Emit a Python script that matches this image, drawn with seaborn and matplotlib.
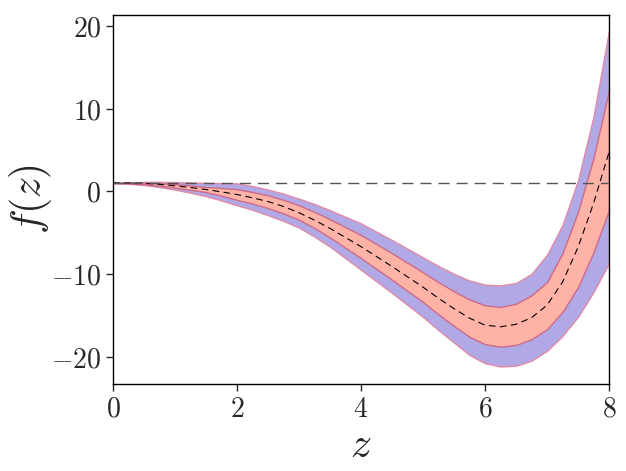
import numpy as np
import pandas as pd
import seaborn as sns
import matplotlib
matplotlib.use('Agg')
import matplotlib.pyplot as plt
from matplotlib.ticker import FuncFormatter

# values
z = [0, 0.25, 0.5, 0.75, 1, 1.25, 1.5, 1.75, 2, 2.25, 2.5, 2.75, 3, 3.25,
     3.5, 3.75, 4, 4.25, 4.5, 4.75, 5, 5.25, 5.5, 5.75, 6, 6.25, 6.5,
     6.75, 7, 7.25, 7.5, 7.75, 8]
f_mid = [1.0, 1.0, 0.95, 0.82, 0.65, 0.45, 0.2, -0.08, -0.4, -0.8, -1.25,
         -1.85, -2.6, -3.5, -4.5, -5.6, -6.7, -7.9, -9.1, -10.35, -11.6,
         -12.95, -14.2, -15.35, -16.2, -16.4, -16.1, -15.3, -13.8, -11.0,
         -6.8, -1.5, 4.7]
f_hi1 = [1.0, 1.02, 1.05, 0.97, 0.85, 0.7, 0.5, 0.4, 0.25, -0.1, -0.5,
         -1.05, -1.7, -2.5, -3.4, -4.35, -5.3, -6.4, -7.5, -8.65, -9.8,
         -11.0, -12.1, -13.1, -13.8, -14.0, -13.6, -12.6, -11.0, -7.5,
         -2.5, 4.0, 12.2]
f_lo1 = [1.0, 0.95, 0.85, 0.67, 0.43, 0.17, -0.1, -0.55, -1.05, -1.5, -2.05,
         -2.7, -3.45, -4.45, -5.6, -6.85, -8.1, -9.4, -10.7, -12.05, -13.4,
         -14.9, -16.3, -17.6, -18.5, -18.8, -18.6, -17.9, -16.7, -14.6,
         -11.6, -7.4, -2.3]
f_hi2 = [1.0, 1.07, 1.12, 1.13, 1.1, 1.06, 1.0, 0.98, 0.95, 0.62, 0.2,
         -0.3, -0.9, -1.55, -2.3, -3.1, -3.9, -4.9, -5.9, -6.95, -8.0,
         -9.05, -10.0, -10.8, -11.3, -11.4, -11.1, -10.0, -7.7, -4.1, 1.3,
         9.0, 19.4]
f_lo2 = [1.0, 0.9, 0.75, 0.5, 0.2, -0.18, -0.6, -1.12, -1.7, -2.25, -2.9,
         -3.6, -4.4, -5.5, -6.7, -8.1, -9.5, -10.9, -12.3, -13.75, -15.2,
         -16.8, -18.3, -19.8, -20.8, -21.2, -21.1, -20.5, -19.3, -17.5,
         -15.2, -12.2, -8.7]
x_ticks = [0, 2, 4, 6, 8]
y_ticks = [-20, -10, 0, 10, 20]

df = pd.DataFrame({'z': z, 'mid': f_mid, 'hi1': f_hi1, 'lo1': f_lo1,
                   'hi2': f_hi2, 'lo2': f_lo2})

sns.set_style('ticks')
plt.rcParams['font.family'] = ['DejaVu Serif']
plt.rcParams['mathtext.fontset'] = 'cm'

fig = plt.figure(figsize=(6.26, 4.71), dpi=100)
ax = fig.add_axes([0.1805, 0.185, 0.7923, 0.783])

# outer band, inner band
ax.fill_between(df['z'], df['lo2'], df['hi2'], facecolor='#b1a9e5',
                edgecolor='#e08aa8', lw=1, zorder=1)
ax.fill_between(df['z'], df['lo1'], df['hi1'], facecolor='#ffb2a6',
                edgecolor='#cc6a8a', lw=1, zorder=2)

sns.lineplot(data=df, x='z', y='mid', ax=ax, color='black', lw=0.8,
             linestyle=(0, (6, 4)), zorder=3)
ax.axhline(1, color='#555555', lw=1, linestyle=(0, (8, 5)), zorder=4)

ax.set_xlim(0, 8)
ax.set_ylim(-23.3, 21.3)
ax.set_xticks(x_ticks)
ax.set_yticks(y_ticks)
fmt = FuncFormatter(lambda v, p: f'${v:g}$')
ax.xaxis.set_major_formatter(fmt)
ax.yaxis.set_major_formatter(fmt)
ax.tick_params(labelsize=20, length=5, width=1, direction='out')
for s in ax.spines.values():
    s.set_linewidth(1)
    s.set_color('black')

ax.set_xlabel(r'$z$', fontsize=30, labelpad=1)
ax.set_ylabel(r'$f(z)$', fontsize=30, labelpad=-2)

fig.savefig('out.png', dpi=100)
